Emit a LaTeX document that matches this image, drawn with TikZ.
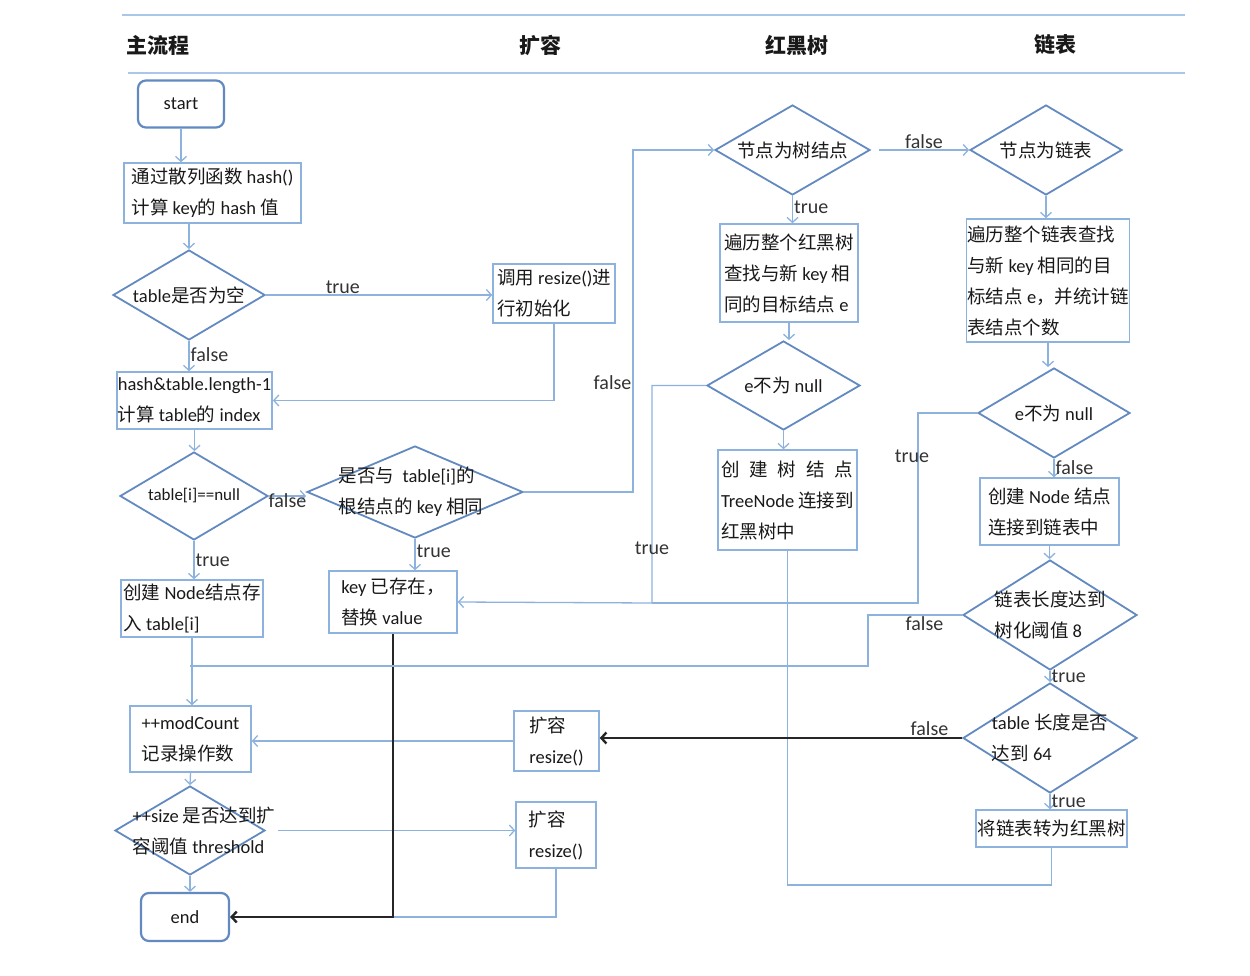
\documentclass[tikz,border=0pt]{standalone}
\usepackage{fontspec}
\setmainfont{Carlito}
\newfontfamily\cjk{Noto Sans CJK SC}
% switch to the CJK face for ideographs
\XeTeXinterchartokenstate=1
\newXeTeXintercharclass\cjkclass
\newcount\cjkcode
\cjkcode="4E00
\loop
  \XeTeXcharclass\cjkcode=\cjkclass
  \advance\cjkcode by 1
\ifnum\cjkcode<"A000\repeat
\XeTeXcharclass"FF0C=\cjkclass
\XeTeXinterchartoks 0 \cjkclass = {\cjk}
\XeTeXinterchartoks 4095 \cjkclass = {\cjk}
\XeTeXinterchartoks \cjkclass 0 = {\rmfamily}
\XeTeXinterchartoks \cjkclass 4095 = {\rmfamily}
\usetikzlibrary{shapes.geometric,arrows.meta}
\definecolor{flowline}{RGB}{141,178,222}
\definecolor{flowedge}{RGB}{98,138,192}
\definecolor{lanerule}{RGB}{170,198,232}
\tikzset{>={Straight Barb[length=5pt,width=11pt]}}
\tikzset{
  box/.style = {draw=flowline, line width=1.5pt, align=left, inner sep=1pt, text=black!90, font=\fontsize{18.5}{31}\selectfont},
  term/.style = {box, draw=flowedge, line width=2.2pt, rounded corners=8pt},
  decision/.style = {diamond, draw=flowedge, line width=1.8pt, inner sep=0pt},
  dtext/.style = {align=left, text=black!90, font=\fontsize{18.5}{31}\selectfont},
  flow/.style = {draw=flowline, line width=1.3pt},
  bold flow/.style = {draw=black!85, line width=2.4pt},
  tag/.style = {font=\fontsize{20}{20}\selectfont, text=black!80, inner sep=1pt},
  head/.style = {font=\fontsize{21}{21}\selectfont\bfseries, text=black!90},
  rule/.style = {draw=lanerule, line width=2pt}
}

\begin{document}
\begin{tikzpicture}[x=1pt,y=-1pt]
  \useasboundingbox (0,0) rectangle (1250,976);
  % lanes
  \draw[rule] (122,15) -- (1185,15);
  \draw[rule] (128,73) -- (1185,73);
  \node (lanemain) at (123,45) [head,anchor=west] {主流程};
  \node (laneresize) at (540,45) [head] {扩容};
  \node (lanetree) at (797,45) [head] {红黑树};
  \node (lanelist) at (1055,45) [head] {链表};

  % main flow
  \node (start) at (181,104) [term, minimum width=86pt, minimum height=47pt] {start};
  \node (hash) at (212.5,193) [box, minimum width=177pt, minimum height=60pt] {通过散列函数~hash()\\计算~key的~hash~值};
  \node (empty) at (189,295) [decision, minimum width=152pt, minimum height=90pt, label={[dtext]center:{table是否为空}}] {};
  \node (init) at (554,293.5) [box, minimum width=122pt, minimum height=59pt] {调用~resize()进\\行初始化};
  \node (index) at (194.5,400.5) [box, minimum width=155pt, minimum height=57pt] {hash\&table.length-1\\计算~table的~index};
  \node (isnull) at (194,496) [decision, minimum width=148pt, minimum height=88pt, label={[dtext,font=\fontsize{17}{17}\selectfont]center:{table[i]==null}}] {};
  \node (samekey) at (415,492) [decision, minimum width=216pt, minimum height=92pt, label={[dtext,xshift=-4pt]center:{是否与~~table[i]的\\根结点的~key~相同}}] {};
  \node (newnode) at (192,608.5) [box, minimum width=142pt, minimum height=57pt] {创建~Node结点存\\入~table[i]};
  \node (keybox) at (393,602) [box, minimum width=128pt, minimum height=62pt] {key~已存在，\\替换~value};
  \node (modcount) at (190.5,739) [box, minimum width=121pt, minimum height=66pt] {++modCount\\记录操作数};
  \node (sizecheck) at (190,830.5) [decision, minimum width=150pt, minimum height=89pt, label={[dtext,xshift=14pt]center:{++size~是否达到扩\\容阈值~threshold}}] {};
  \node (end) at (185,917) [term, minimum width=88pt, minimum height=48pt] {end};

  % resize
  \node (resizeA) at (556.5,741) [box, minimum width=85pt, minimum height=60pt] {扩容\\resize()};
  \node (resizeB) at (556,835) [box, minimum width=80pt, minimum height=66pt] {扩容\\resize()};

  % red-black tree
  \node (istree) at (792.5,150) [decision, minimum width=155pt, minimum height=90pt, label={[dtext]center:{节点为树结点}}] {};
  \node (treewalk) at (789,273) [box, minimum width=138pt, minimum height=98pt] {遍历整个红黑树\\查找与新~key~相\\同的目标结点~e};
  \node (treefound) at (783.5,385.5) [decision, minimum width=153pt, minimum height=89pt, label={[dtext]center:{e不为~null}}] {};
  \node (treenew) at (787.5,500) [box, minimum width=139pt, minimum height=100pt] {\makebox[132pt][s]{创\hfil 建\hfil 树\hfil 结\hfil 点}\\TreeNode~连接到\\红黑树中};

  % linked list
  \node (islist) at (1046,150) [decision, minimum width=152pt, minimum height=90pt, label={[dtext]center:{节点为链表}}] {};
  \node (listwalk) at (1048,280.5) [box, minimum width=160pt, minimum height=123pt] {遍历整个链表查找\\与新~key~相同的目\\标结点~e，并统计链\\表结点个数};
  \node (listfound) at (1054,413) [decision, minimum width=152pt, minimum height=90pt, label={[dtext]center:{e不为~null}}] {};
  \node (listnew) at (1049.5,511.5) [box, minimum width=139pt, minimum height=67pt] {创建~Node~结点\\连接到链表中};
  \node (reach8) at (1050,615) [decision, minimum width=174pt, minimum height=110pt, label={[dtext]center:{链表长度达到\\树化阈值~8}}] {};
  \node (reach64) at (1050,738) [decision, minimum width=174pt, minimum height=110pt, label={[dtext]center:{table~长度是否\\达到~64}}] {};
  \node (treeify) at (1051.5,828.5) [box, minimum width=151pt, minimum height=37pt] {将链表转为红黑树};

  % connectors, main flow
  \draw[flow,->] (start.south) -- (start.south |- hash.north);
  \draw[flow,->] (empty |- hash.south) -- (empty.north);
  \draw[flow,->] (empty.east) -- node[tag,above,pos=0.34] {true} (empty.east -| init.west);
  \draw[flow,->] (empty.south) -- node[tag,right,pos=0.45] {false} (empty.south |- index.north);
  \draw[flow,->] (init.south) |- (index.east);
  \draw[flow,->] (index.south) -- (index.south |- isnull.north);
  \draw[flow,->] (isnull.east) -- node[tag,pos=0.5,yshift=-5pt] {false} (isnull.east -| samekey.west);
  \draw[flow,->] (samekey.east) -- (633,492) -- node[tag,left,pos=0.32] {false} (633,150) -- (istree.west);
  \draw[flow,->] (isnull.south) -- node[tag,right,pos=0.5] {true} (isnull.south |- newnode.north);
  \draw[flow,->] (samekey.south) -- node[tag,right,pos=0.4] {true} (samekey.south |- keybox.north);
  \draw[flow,->] (newnode.south) -- (newnode.south |- modcount.north);
  \draw[flow,->] (resizeA.west) -- (resizeA.west -| modcount.east);
  \draw[flow,->] (modcount.south) -- (sizecheck.north);
  \draw[flow,->] (sizecheck.east) ++(12,0) -- (sizecheck.east -| resizeB.west);
  \draw[flow,->] (sizecheck.south) -- (sizecheck.south |- end.north);
  \draw[flow] (resizeB.south) |- (end.east);
  \draw[bold flow,->] (keybox.south) |- (end.east);

  % connectors, tree and list
  \draw[flow,->] (istree.east) ++(8,0) -- node[tag,above] {false} (islist.west);
  \draw[flow,->] (istree.south) -- node[tag,right,pos=0.4] {true} (istree.south |- treewalk.north);
  \draw[flow,->] (treewalk.south) -- (treewalk.south |- treefound.north);
  \draw[flow,->] (treefound.south) -- (treefound.south |- treenew.north);
  \draw[flow] (treenew.south) -- (787.5,885) -| (treeify.south);
  \draw[flow,->] (treefound.west) -- (652,385.5) -- node[tag,pos=0.75] {true} (652,603) -- (keybox.east);
  \draw[flow] (listfound.west) -- (918,413) -- node[tag,pos=0.23,xshift=-6pt] {true} (918,603) -- (652,603);
  \draw[flow,->] (islist.south) -- (islist.south |- listwalk.north);
  \draw[flow,->] (listwalk.south) -- (listwalk.south |- listfound.north);
  \draw[flow,->] (listfound.south) -- node[tag,right,pos=0.5] {false} (listfound.south |- listnew.north);
  \draw[flow,->] (listnew.south) -- (listnew.south |- reach8.north);
  \draw[flow] (reach8.west) -- node[tag,below,pos=0.4] {false} (868,615) -- (868,666) -- (190,666);
  \draw[flow,->] (reach8.south) -- node[tag,right,pos=0.5] {true} (reach64.north);
  \draw[flow,->] (reach64.south) -- node[tag,right,pos=0.5] {true} (reach64.south |- treeify.north);
  \draw[bold flow,->] (reach64.west) -- node[tag,above,pos=0.09] {false} (reach64.west -| resizeA.east);
\end{tikzpicture}
\end{document}
